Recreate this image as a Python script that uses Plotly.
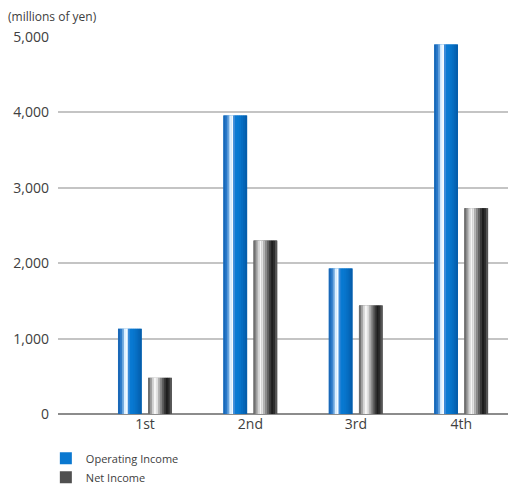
import plotly.graph_objects as go

categories = ["1st", "2nd", "3rd", "4th"]
operating_income = [1130, 3960, 1930, 4900]
net_income = [480, 2300, 1440, 2730]
y_ticks = [0, 1000, 2000, 3000, 4000, 5000]
y_tick_labels = ["0", "1,000", "2,000", "3,000", "4,000", "5,000"]

blue_shades = ['#1a68b8', '#2a78c8', '#6aa4dc', '#dcefff', '#f4faff', '#3a8ad8',
               '#0a7ad2', '#0878d0', '#0874ca', '#066ec2', '#0566b8', '#055eac']
gray_shades = ['#707070', '#a0a0a0', '#d4d4d4', '#f6f6f6', '#e2e2e2', '#b4b4b4',
               '#8a8a8a', '#606060', '#3a3a3a', '#1e1e1e', '#2c2c2c', '#555555']

x_pos = list(range(len(categories)))
bar_w = 0.223
series = [
    ("Operating Income", operating_income, blue_shades, -0.256, '#0a78d0'),
    ("Net Income", net_income, gray_shades, 0.030, '#505050'),
]

fig = go.Figure()
for name, vals, shades, off, base_col in series:
    fig.add_trace(go.Bar(x=x_pos, y=vals, width=bar_w, offset=off, name=name,
                         marker=dict(color=base_col, line=dict(width=0)),
                         showlegend=True, hoverinfo="skip"))
    n = len(shades)
    sw = bar_w / n
    for k, c in enumerate(shades):
        fig.add_trace(go.Bar(x=x_pos, y=vals, width=sw * 1.15, offset=off + k * sw,
                             marker=dict(color=c, line=dict(width=0)),
                             showlegend=False, hoverinfo="skip"))

fig.update_layout(
    width=508, height=485,
    margin=dict(l=58, r=0, t=37, b=71, autoexpand=False),
    barmode="overlay",
    plot_bgcolor="white", paper_bgcolor="white",
    font=dict(family="Open Sans, Noto Sans, sans-serif", color="#404040", size=14),
    xaxis=dict(range=[-0.825, 3.444], tickvals=x_pos, ticktext=categories,
               showgrid=False, zeroline=False, showline=False, ticks="",
               tickfont=dict(size=14, color="#404040")),
    yaxis=dict(range=[0, 5000], tickvals=y_ticks, ticktext=y_tick_labels,
               showgrid=True, gridcolor="#c4c4c4", gridwidth=1.5,
               zeroline=True, zerolinecolor="#8c8c8c", zerolinewidth=2,
               showline=False, ticks="", ticklabelstandoff=8,
               tickfont=dict(size=14, color="#404040")),
    legend=dict(orientation="v", x=-0.027, y=0.085, xref="paper", yref="container",
                xanchor="left", yanchor="top",
                font=dict(size=11, color="#404040"), itemwidth=30,
                bgcolor="rgba(0,0,0,0)", tracegroupgap=0),
    annotations=[dict(text="(millions of yen)", xref="paper", yref="paper",
                      x=0, y=1, xanchor="left", yanchor="bottom", xshift=-52, yshift=10,
                      showarrow=False, font=dict(size=12, color="#404040"))],
)

fig.write_html("out.html")
